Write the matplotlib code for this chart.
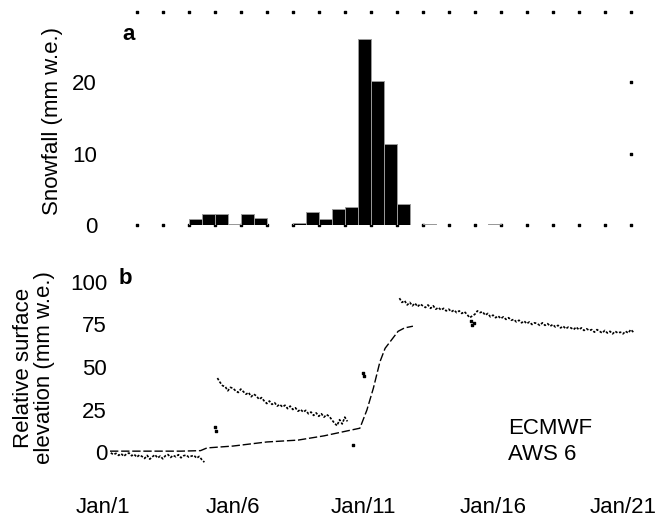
import numpy as np
import matplotlib
matplotlib.use("Agg")
import matplotlib.pyplot as plt

plt.rcParams["font.family"] = ["Liberation Sans", "DejaVu Sans"]

# x axis: days since Jan/1
tick_days = [0, 5, 10, 15, 20]
tick_labels = ["Jan/1", "Jan/6", "Jan/11", "Jan/16", "Jan/21"]

# panel a: 12-hourly snowfall bars (left edge day, mm w.e.)
snow_day = [3.3, 3.8, 4.3, 4.8, 5.3, 5.8, 7.3, 7.8, 8.3, 8.8, 9.3,
            9.8, 10.3, 10.8, 11.3, 12.3, 14.8]
snow_mm = [0.8, 1.5, 1.5, 0.15, 1.6, 1.0, 0.3, 1.8, 0.8, 2.3, 2.5,
           26.0, 20.1, 11.3, 3.0, 0.15, 0.15]
grid_days = [1.3 + k for k in range(20)]

# panel b: ECMWF
ecmwf_day = [0.27, 1.0, 2.0, 3.0, 3.75, 4.0, 5.0, 6.3, 7.5, 8.5, 9.88,
             10.15, 10.4, 10.65, 10.85, 11.1, 11.35, 11.6, 11.92]
ecmwf_val = [0.5, 0.5, 0.5, 0.5, 0.8, 2.4, 3.5, 5.9, 7.0, 9.5, 14.0,
             24.7, 37.6, 53.0, 61.0, 66.0, 71.0, 73.0, 74.0]

# panel b: AWS 6 (three segments, 0.1 day spacing, plus stray points)
aws1_start = 0.3
aws1_val = [-0.5, -1.5, -0.8, -2.0, -1.0, -2.5, -1.2, -0.6, -2.2, -1.4,
            -3.0, -1.8, -2.6, -3.8, -2.0, -4.2, -2.8, -1.6, -3.5, -2.4,
            -4.0, -2.2, -1.5, -3.2, -2.0, -2.8, -1.6, -3.4, -2.2, -1.8,
            -3.0, -2.4, -2.0, -3.6, -2.6, -4.5, -6.0]
aws2_start = 4.4
aws2_val = [43.5, 41, 39, 38.5, 36, 38, 37.5, 36, 35, 37,
            35.5, 34, 35, 32.5, 34, 33, 31, 32, 30, 28.5,
            30, 28, 29, 27, 28, 26.5, 27.5, 25.5, 27, 25,
            26, 24, 25, 23.5, 24.5, 22.5, 23.5, 21.5, 23, 21,
            22.5, 20.5, 22, 21, 19, 17, 15.5, 19, 16.5, 20.5, 18]
aws3_start = 11.4
aws3_val = [90.5, 88, 89, 86.5, 88, 86, 87.5, 85.5, 87, 86,
            85, 86.5, 84.5, 86, 84, 85, 83.5, 84.5, 83, 84,
            82.5, 83.5, 82, 83, 81.5, 82.5, 81, 79, 80, 81,
            83, 82, 82.5, 80.5, 81.5, 79.5, 80.5, 79, 80, 78.5,
            79.5, 78, 79, 77.5, 78, 76.5, 77.5, 76, 77, 75.5,
            76.5, 75, 76, 75.5, 74.5, 76, 74.5, 75.5, 74, 75,
            73.5, 74.5, 73, 74, 72.5, 73.5, 73, 72, 73.5, 72,
            73, 71.5, 72.5, 71.5, 72, 70.5, 72, 71, 70, 71.5,
            70, 71, 69.5, 71, 70, 70.5, 69.5, 71, 70, 72, 70.5]
aws_stray_day = [4.3, 4.35, 9.6, 10.0, 10.05, 14.15, 14.2, 14.25]
aws_stray_val = [14.7, 12.5, 4.0, 46.5, 44.5, 77.0, 74.5, 76.0]

W, H = 659, 519
fig = plt.figure(figsize=(W / 100, H / 100), dpi=100)

# ---- panel a
ax1 = fig.add_axes([103 / W, (H - 225) / H, 546 / W, 213 / H])
ax1.set_xlim(0, 21)
ax1.set_ylim(0, 29.8)
ax1.scatter(grid_days, [29.8] * len(grid_days), s=2, marker="s", color="black", clip_on=False, zorder=1)
ax1.scatter(grid_days, [0] * len(grid_days), s=2, marker="s", color="black", clip_on=False, zorder=1)
ax1.scatter([20.3, 20.3], [10, 20], s=2, marker="s", color="black", clip_on=False, zorder=1)
ax1.bar(snow_day, snow_mm, width=0.5, align="edge", color="black",
        edgecolor="#9a9a9a", linewidth=0.7, zorder=2)
for s in ax1.spines.values():
    s.set_visible(False)
ax1.set_xticks([])
ax1.set_yticks([0, 10, 20])
ax1.tick_params(axis="y", length=0, pad=4.3, labelsize=16)
fig.text(129 / W, 1 - 35 / H, "a", ha="center", va="center",
         fontsize=16, fontweight="bold")
fig.text(53 / W, 1 - 121 / H, "Snowfall (mm w.e.)", rotation=90,
         ha="center", va="center", fontsize=16)

# ---- panel b
ax2 = fig.add_axes([103 / W, 41.5 / H, 546 / W, 212.5 / H])
ax2.set_xlim(0, 21)
ax2.set_ylim(-15, 110)
ax2.plot(ecmwf_day, ecmwf_val, color="black", lw=1.0, ls=(0, (6, 2)))
for start, vals in [(aws1_start, aws1_val), (aws2_start, aws2_val), (aws3_start, aws3_val)]:
    days = start + 0.1 * np.arange(len(vals))
    ax2.plot(days, vals, color="black", lw=1.2, ls=(0, (1.5, 1)))
ax2.scatter(aws_stray_day, aws_stray_val, s=2, marker="s", color="black")
for s in ax2.spines.values():
    s.set_visible(False)
ax2.set_yticks([0, 25, 50, 75, 100])
ax2.tick_params(axis="y", length=0, pad=-2.9, labelsize=16)
ax2.set_xticks(tick_days)
ax2.set_xticklabels(tick_labels)
ax2.tick_params(axis="x", length=0, pad=14, labelsize=16)
fig.text(125 / W, 1 - 279 / H, "b", ha="center", va="center", fontsize=16, fontweight="bold")
fig.text(34 / W, 1 - 368 / H, "Relative surface\nelevation (mm w.e.)", rotation=90,
         ha="center", va="center", fontsize=16, linespacing=0.95)
fig.text(508 / W, 1 - 428 / H, "ECMWF", ha="left", va="center", fontsize=16)
fig.text(508 / W, 1 - 455 / H, "AWS 6", ha="left", va="center", fontsize=16)

fig.savefig("out.png", dpi=100)
